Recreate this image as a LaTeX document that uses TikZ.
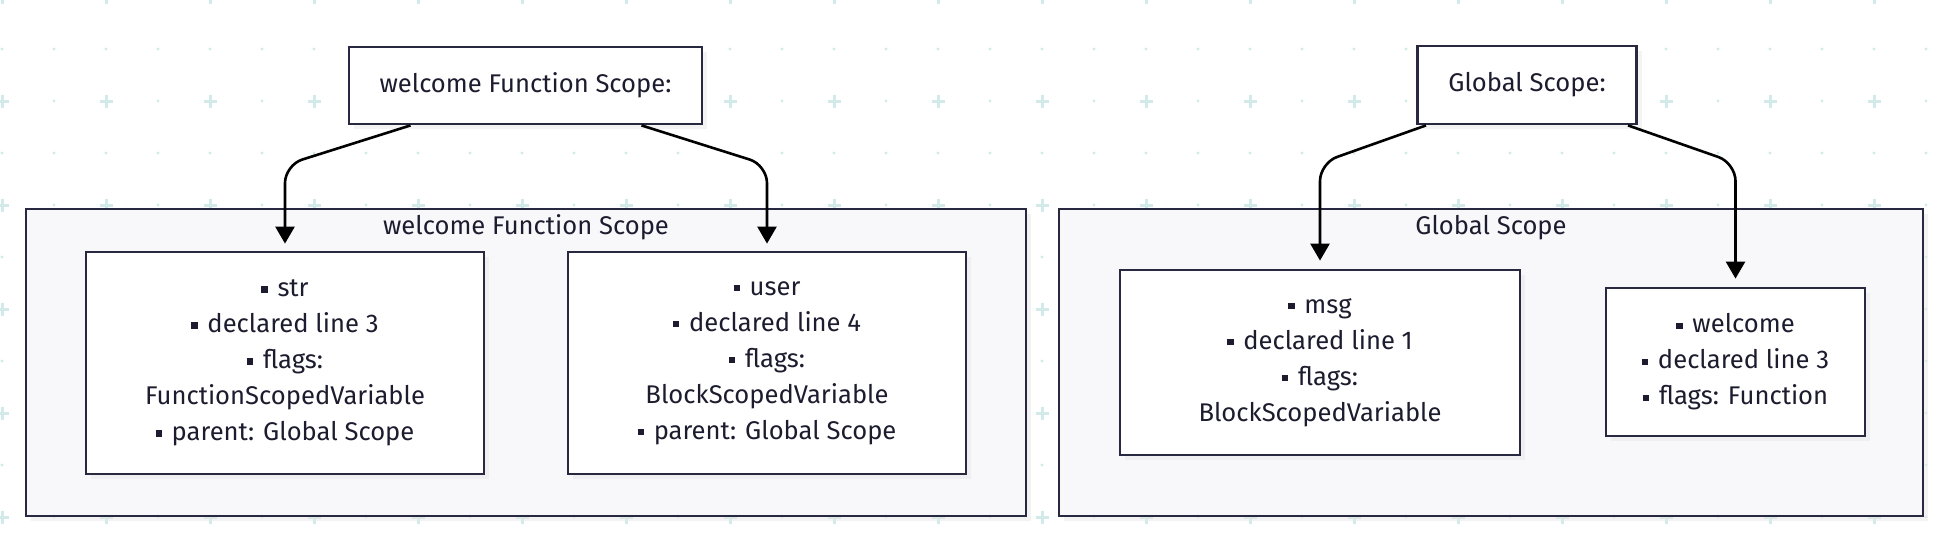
\documentclass[tikz,border=0pt]{standalone}
\usepackage{fontspec}
\setmainfont{Fira Sans}
\usetikzlibrary{arrows.meta,shadows}

\definecolor{edgecol}{RGB}{40,40,64}
\definecolor{inkcol}{RGB}{28,28,46}
\definecolor{dotcol}{RGB}{210,234,234}
\definecolor{panefill}{RGB}{248,248,251}

\newcommand{\bul}{\raisebox{0.16em}{\rule{0.25em}{0.24em}}\hspace{0.38em}}

\tikzset{
	scopebox/.style={draw=edgecol, line width=1.4pt, fill=white, inner sep=0pt, align=center, text=inkcol,
		drop shadow={shadow xshift=2.5pt, shadow yshift=-2.5pt, fill=black!9}},
	pane/.style={scopebox, fill=panefill},
	flow/.style={draw=black, line width=1.3pt, rounded corners=9pt, -{Triangle[length=8.5pt,width=9.5pt]}},
}

\begin{document}
\begin{tikzpicture}[x=0.5pt, y=-0.5pt, font=\fontsize{12.8pt}{18pt}\selectfont]
	\useasboundingbox (0,0) rectangle (1948,548);
	% background dots and crosses
	\foreach \i in {0,...,37} \foreach \b in {0,...,5} \fill[dotcol] (2+52*\i, 49+104*\b) circle (0.8pt);
	\foreach \a in {0,...,18} \foreach \b in {0,...,5} {
		\fill[dotcol] (54+104*\a, -3+104*\b) circle (0.8pt);
		\draw[dotcol, line width=1.5pt] (2+104*\a, -3+104*\b) ++(-6.5,0) -- ++(13,0) ++(-6.5,-6.5) -- ++(0,13);
	}

	\node [scopebox, minimum width=176.5pt, minimum height=38.5pt] (wtop) at (525.5,85.5) {welcome Function Scope:};
	\node [scopebox, minimum width=109.5pt, minimum height=39pt] (gtop) at (1527,85) {Global Scope:};

	\node [pane, minimum width=500pt, minimum height=153.5pt] (wcont) at (526,362.5) {};
	\node [pane, minimum width=432pt, minimum height=153.5pt] (gcont) at (1491,362.5) {};
	\node [text=inkcol] (wtitle) at ([yshift=-10pt]wcont.north) {welcome Function Scope};
	\node [text=inkcol] (gtitle) at ([yshift=-10pt]gcont.north) {Global Scope};

	\node [scopebox, minimum width=199pt, minimum height=111pt] (str) at (285,363)
		{\bul str\\\bul declared line 3\\\bul flags:\\FunctionScopedVariable\\\bul parent: Global Scope};
	\node [scopebox, minimum width=199pt, minimum height=111pt] (user) at (767,363)
		{\bul user\\\bul declared line 4\\\bul flags:\\BlockScopedVariable\\\bul parent: Global Scope};
	\node [scopebox, minimum width=200pt, minimum height=92.5pt] (msg) at (1320,362.5)
		{\bul msg\\\bul declared line 1\\\bul flags:\\BlockScopedVariable};
	\node [scopebox, minimum width=129.5pt, minimum height=74pt] (welc) at (1735.5,362)
		{\bul welcome\\\bul declared line 3\\\bul flags: Function};

	\draw [flow] ([xshift=-57.5pt]wtop.south) -- (str.north |- 0,165) -- ([yshift=3.5pt]str.north);
	\draw [flow] ([xshift=58pt]wtop.south) -- (user.north |- 0,165) -- ([yshift=3.5pt]user.north);
	\draw [flow] ([xshift=-50.5pt]gtop.south) -- (msg.north |- 0,163) -- ([yshift=4pt]msg.north);
	\draw [flow] ([xshift=50.5pt]gtop.south) -- (welc.north |- 0,163) -- ([yshift=4pt]welc.north);
\end{tikzpicture}
\end{document}
